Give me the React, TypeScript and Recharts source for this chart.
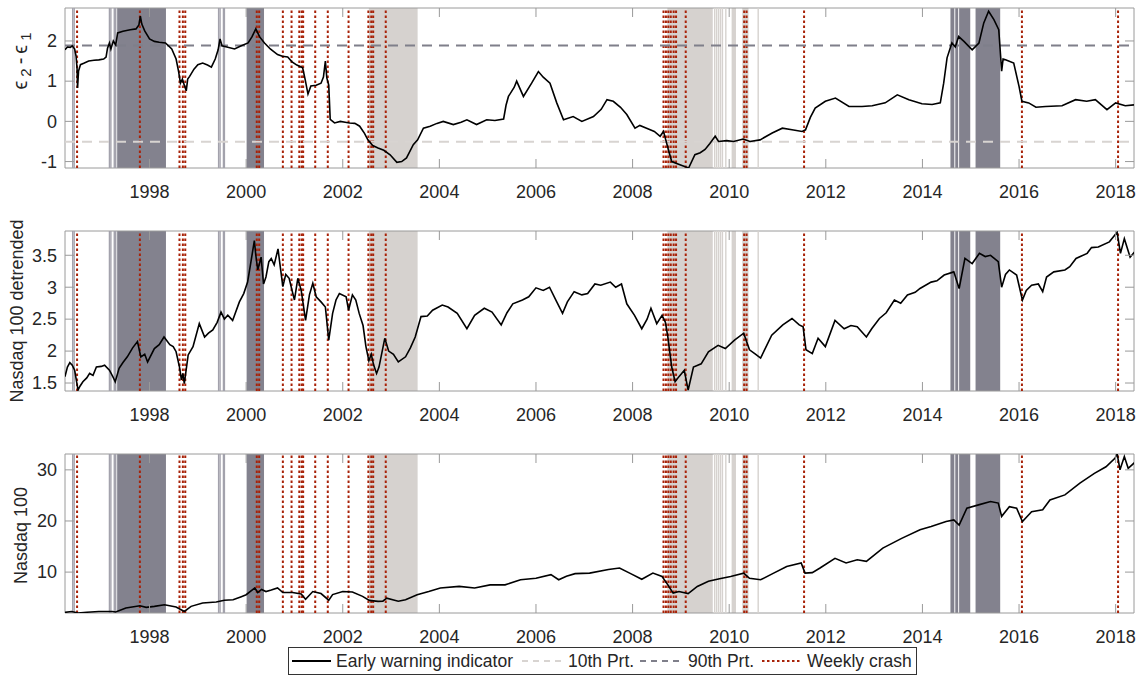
import React from 'react';
import { LineChart, Line, XAxis, YAxis, ReferenceArea, ReferenceLine } from 'recharts';

const X_MIN = 1996.25;
const X_MAX = 2018.38;
const yearTicks = [1998, 2000, 2002, 2004, 2006, 2008, 2010, 2012, 2014, 2016, 2018];

// early warning indicator (eps2 - eps1)
const indicatorDates = [
  1996.25, 1996.3, 1996.36, 1996.4, 1996.45, 1996.48, 1996.5, 1996.51, 1996.53, 1996.57, 1996.65, 1996.74,
  1996.85, 1996.95, 1997.05, 1997.1, 1997.13, 1997.17, 1997.2, 1997.25, 1997.3, 1997.34, 1997.45, 1997.6,
  1997.72, 1997.78, 1997.81, 1997.84, 1997.9, 1998.0, 1998.1, 1998.2, 1998.33, 1998.46, 1998.55, 1998.6,
  1998.64, 1998.68, 1998.72, 1998.76, 1998.79, 1998.83, 1998.92, 1999.0, 1999.1, 1999.2, 1999.28, 1999.36,
  1999.42, 1999.46, 1999.5, 1999.6, 1999.76, 1999.9, 2000.04, 2000.12, 2000.2, 2000.28, 2000.38, 2000.5,
  2000.65, 2000.75, 2000.86, 2000.95, 2001.05, 2001.17, 2001.22, 2001.28, 2001.34, 2001.45, 2001.55, 2001.6,
  2001.64, 2001.67, 2001.71, 2001.74, 2001.83, 2001.95, 2002.05, 2002.14, 2002.25, 2002.35, 2002.45, 2002.52,
  2002.62, 2002.73, 2002.85, 2002.98, 2003.12, 2003.22, 2003.32, 2003.46, 2003.55, 2003.67, 2003.81, 2003.95,
  2004.08, 2004.29, 2004.45, 2004.57, 2004.77, 2004.98, 2005.15, 2005.33, 2005.38, 2005.43, 2005.55, 2005.6,
  2005.74, 2005.91, 2006.05, 2006.15, 2006.29, 2006.43, 2006.57, 2006.77, 2006.95, 2007.19, 2007.35, 2007.47,
  2007.6, 2007.75, 2007.88, 2008.05, 2008.15, 2008.29, 2008.45, 2008.57, 2008.64, 2008.74, 2008.81, 2008.98,
  2009.16, 2009.29, 2009.4, 2009.5, 2009.6, 2009.71, 2009.78, 2009.95, 2010.09, 2010.29, 2010.43, 2010.64,
  2010.89, 2011.1, 2011.3, 2011.51, 2011.58, 2011.68, 2011.78, 2011.99, 2012.2, 2012.48, 2012.75, 2012.96,
  2013.23, 2013.48, 2013.72, 2013.99, 2014.2, 2014.37, 2014.44, 2014.51, 2014.61, 2014.68, 2014.75, 2014.86,
  2015.03, 2015.17, 2015.27, 2015.37, 2015.48, 2015.58, 2015.62, 2015.64, 2015.67, 2015.72, 2015.89, 2016.0,
  2016.06, 2016.2, 2016.35, 2016.55, 2016.89, 2017.17, 2017.4, 2017.58, 2017.82, 2018.0, 2018.2, 2018.38,
];
const indicatorValues = [
  1.78, 1.85, 1.84, 1.88, 1.8, 1.62, 1.3, 0.83, 1.25, 1.41, 1.45, 1.5,
  1.52, 1.53, 1.55, 1.6, 1.82, 1.95, 1.8, 2.0, 1.9, 2.2, 2.24, 2.28,
  2.3, 2.4, 2.62, 2.42, 2.25, 2.05, 1.99, 1.97, 1.95, 1.8, 1.55, 1.25,
  0.95, 1.05, 0.9, 0.76, 1.05, 1.12, 1.3, 1.41, 1.45, 1.4, 1.35, 1.55,
  1.78, 2.05, 1.88, 1.85, 1.8, 1.88, 1.95, 2.1, 2.3, 2.1, 1.95, 1.8,
  1.66, 1.62, 1.6, 1.48, 1.4, 1.33, 1.05, 0.68, 0.88, 0.9, 0.95, 1.1,
  1.5, 1.08, 0.9, 0.05, -0.04, 0.0, -0.02, -0.04, -0.05, -0.12, -0.3, -0.46,
  -0.6, -0.66, -0.72, -0.83, -1.02, -1.0, -0.91, -0.58, -0.46, -0.17, -0.12, -0.05,
  0.0, -0.08, -0.02, 0.04, -0.08, 0.04, 0.02, 0.06, 0.4, 0.62, 0.85, 1.0,
  0.62, 0.95, 1.24, 1.1, 0.95, 0.46, 0.04, 0.12, 0.0, 0.12, 0.3, 0.54,
  0.5, 0.35, 0.17, -0.17, -0.1, -0.17, -0.25, -0.37, -0.25, -0.7, -1.0, -1.08,
  -1.16, -0.83, -0.78, -0.7, -0.55, -0.37, -0.5, -0.48, -0.5, -0.44, -0.5, -0.46,
  -0.29, -0.17, -0.21, -0.25, -0.21, 0.1, 0.33, 0.5, 0.58, 0.37, 0.37, 0.39,
  0.46, 0.66, 0.54, 0.44, 0.42, 0.46, 0.95, 1.58, 1.95, 1.85, 2.11, 1.99,
  1.78, 1.95, 2.45, 2.74, 2.53, 2.28, 1.6, 1.25, 1.55, 1.53, 1.45, 0.87,
  0.5, 0.46, 0.35, 0.37, 0.39, 0.54, 0.5, 0.54, 0.29, 0.46, 0.39, 0.41,
];

// Nasdaq 100 detrended
const detrendedDates = [
  1996.25, 1996.3, 1996.35, 1996.4, 1996.45, 1996.52, 1996.56, 1996.62, 1996.7, 1996.76, 1996.83, 1996.9,
  1997.0, 1997.07, 1997.17, 1997.24, 1997.29, 1997.37, 1997.45, 1997.54, 1997.65, 1997.75, 1997.82, 1997.9,
  1997.96, 1998.1, 1998.2, 1998.3, 1998.42, 1998.49, 1998.55, 1998.62, 1998.66, 1998.69, 1998.72, 1998.8,
  1998.9, 1999.03, 1999.14, 1999.22, 1999.31, 1999.4, 1999.48, 1999.55, 1999.62, 1999.72, 1999.86, 1999.95,
  2000.03, 2000.1, 2000.17, 2000.2, 2000.24, 2000.31, 2000.36, 2000.41, 2000.47, 2000.52, 2000.58, 2000.66,
  2000.71, 2000.76, 2000.82, 2000.89, 2000.95, 2001.0, 2001.07, 2001.14, 2001.23, 2001.31, 2001.38, 2001.45,
  2001.55, 2001.64, 2001.71, 2001.79, 2001.86, 2001.93, 2002.07, 2002.12, 2002.2, 2002.27, 2002.34, 2002.42,
  2002.48, 2002.54, 2002.59, 2002.64, 2002.7, 2002.75, 2002.87, 2002.95, 2003.05, 2003.15, 2003.3, 2003.4,
  2003.5, 2003.62, 2003.75, 2003.86, 2004.06, 2004.18, 2004.37, 2004.57, 2004.73, 2004.93, 2005.09, 2005.28,
  2005.4, 2005.52, 2005.72, 2005.85, 2006.0, 2006.15, 2006.28, 2006.43, 2006.55, 2006.65, 2006.79, 2006.95,
  2007.07, 2007.22, 2007.34, 2007.54, 2007.65, 2007.77, 2007.88, 2008.04, 2008.19, 2008.3, 2008.38, 2008.5,
  2008.61, 2008.68, 2008.73, 2008.81, 2008.88, 2008.96, 2009.07, 2009.15, 2009.26, 2009.42, 2009.57, 2009.77,
  2009.92, 2010.11, 2010.3, 2010.42, 2010.55, 2010.65, 2010.88, 2011.11, 2011.3, 2011.45, 2011.53, 2011.59,
  2011.72, 2011.84, 2011.99, 2012.19, 2012.38, 2012.52, 2012.65, 2012.84, 2012.95, 2013.11, 2013.25, 2013.42,
  2013.55, 2013.69, 2013.85, 2013.95, 2014.18, 2014.3, 2014.45, 2014.65, 2014.76, 2014.88, 2015.03, 2015.18,
  2015.3, 2015.41, 2015.57, 2015.64, 2015.72, 2015.8, 2015.95, 2016.07, 2016.15, 2016.26, 2016.4, 2016.49,
  2016.57, 2016.72, 2016.95, 2017.05, 2017.18, 2017.41, 2017.5, 2017.64, 2017.87, 2018.03, 2018.1, 2018.18,
  2018.3, 2018.39,
];
const detrendedValues = [
  1.6, 1.75, 1.82, 1.78, 1.7, 1.39, 1.45, 1.52, 1.58, 1.65, 1.62, 1.75,
  1.76, 1.78, 1.7, 1.6, 1.52, 1.73, 1.82, 1.91, 2.05, 2.15, 1.91, 1.95,
  1.83, 2.04, 2.1, 2.22, 2.1, 2.07, 1.99, 1.75, 1.55, 1.65, 1.49, 1.94,
  2.07, 2.43, 2.22, 2.28, 2.33, 2.45, 2.61, 2.5, 2.56, 2.48, 2.77, 2.9,
  3.08, 3.4, 3.73, 3.5, 3.27, 3.47, 3.05, 3.16, 3.4, 3.45, 3.35, 3.6,
  3.3, 3.01, 3.2, 3.14, 2.95, 2.8, 3.14, 2.95, 2.48, 2.88, 3.06, 2.85,
  2.77, 2.69, 2.17, 2.59, 2.8, 2.9, 2.85, 2.64, 2.88, 2.8, 2.59, 2.4,
  2.07, 1.85, 1.95, 1.78, 1.65, 1.75, 2.2, 2.0, 1.95, 1.83, 1.91, 2.05,
  2.22, 2.54, 2.55, 2.64, 2.72, 2.69, 2.59, 2.35, 2.56, 2.67, 2.61, 2.41,
  2.6, 2.74, 2.8, 2.85, 2.99, 2.95, 3.0, 2.77, 2.59, 2.77, 2.93, 2.88,
  2.9, 3.05, 3.03, 3.08, 3.0, 3.05, 2.74, 2.56, 2.35, 2.5, 2.67, 2.43,
  2.56, 2.45, 2.22, 1.75, 1.52, 1.6, 1.7, 1.39, 1.75, 1.8, 1.99, 2.09,
  2.04, 2.17, 2.28, 2.02, 1.95, 1.89, 2.25, 2.41, 2.51, 2.41, 2.38, 2.02,
  1.96, 2.2, 2.07, 2.48, 2.35, 2.4, 2.38, 2.22, 2.35, 2.51, 2.6, 2.8,
  2.75, 2.88, 2.92, 2.98, 3.08, 3.1, 3.19, 3.24, 2.98, 3.45, 3.37, 3.53,
  3.48, 3.5, 3.4, 3.0, 3.2, 3.27, 3.19, 2.8, 2.95, 3.03, 3.05, 2.93,
  3.16, 3.24, 3.27, 3.32, 3.45, 3.53, 3.62, 3.63, 3.71, 3.86, 3.53, 3.76,
  3.47, 3.55,
];

// Nasdaq 100
const nasdaqDates = [
  1996.25, 1996.39, 1996.52, 1996.7, 1996.95, 1997.23, 1997.3, 1997.51, 1997.8, 1997.93, 1998.1, 1998.31,
  1998.55, 1998.72, 1998.86, 1999.1, 1999.38, 1999.55, 1999.73, 1999.9, 2000.0, 2000.18, 2000.24, 2000.32,
  2000.41, 2000.52, 2000.65, 2000.76, 2000.96, 2001.14, 2001.23, 2001.38, 2001.55, 2001.71, 2001.79, 2002.0,
  2002.2, 2002.41, 2002.55, 2002.73, 2002.83, 2002.91, 2003.15, 2003.3, 2003.54, 2003.78, 2004.02, 2004.41,
  2004.73, 2005.05, 2005.36, 2005.68, 2006.0, 2006.31, 2006.47, 2006.63, 2006.81, 2007.11, 2007.5, 2007.73,
  2007.96, 2008.19, 2008.42, 2008.61, 2008.73, 2008.84, 2008.96, 2009.15, 2009.34, 2009.57, 2009.8, 2010.03,
  2010.3, 2010.42, 2010.65, 2010.92, 2011.19, 2011.49, 2011.57, 2011.72, 2011.88, 2012.19, 2012.42, 2012.65,
  2012.84, 2013.18, 2013.57, 2013.95, 2014.18, 2014.49, 2014.65, 2014.76, 2014.92, 2015.18, 2015.41, 2015.57,
  2015.64, 2015.8, 2015.95, 2016.07, 2016.26, 2016.49, 2016.64, 2016.95, 2017.26, 2017.56, 2017.8, 2017.99,
  2018.03, 2018.09, 2018.18, 2018.26, 2018.39,
];
const nasdaqValues = [
  2.12, 2.3, 2.0, 2.15, 2.3, 2.3, 2.2, 2.97, 3.42, 3.1, 3.3, 3.62,
  3.16, 2.3, 3.3, 3.95, 4.14, 4.5, 4.6, 5.2, 5.57, 6.9, 6.0, 6.6,
  6.2, 6.5, 6.9, 6.0, 6.0, 5.7, 4.7, 6.2, 5.8, 4.5, 5.6, 6.2,
  6.1, 5.25, 4.47, 4.27, 4.3, 4.9, 4.3, 4.6, 5.57, 6.2, 6.9, 7.2,
  6.9, 7.5, 7.5, 8.5, 8.8, 9.5, 8.5, 9.2, 9.7, 9.8, 10.5, 10.8,
  9.7, 8.6, 9.8, 9.15, 7.5, 5.9, 6.2, 5.8, 7.2, 8.2, 8.7, 9.15,
  9.8, 8.8, 8.5, 9.8, 11.1, 11.8, 9.8, 9.9, 10.8, 12.7, 11.8, 12.4,
  12.1, 14.7, 16.6, 18.3, 18.9, 19.9, 20.2, 19.2, 22.5, 23.2, 23.8, 23.5,
  20.9, 22.8, 22.5, 19.9, 21.8, 22.2, 24.1, 25.1, 27.4, 29.3, 30.6, 32.3,
  33.2, 30.0, 32.6, 30.3, 31.4,
];

const prt10 = -0.51;
const prt90 = 1.89;

// regime periods and crash weeks (decimal years)
const darkPeriods = [
  [1997.33, 1998.34], [2000.01, 2000.37], [2014.58, 2014.66], [2014.68, 2014.74],
  [2014.76, 2014.99], [2015.1, 2015.61],
];
const lightPeriods = [[2002.54, 2003.55], [2008.72, 2009.66], [2010.05, 2010.14], [2010.27, 2010.4]];
const darkDays = [1996.41, 1996.44, 1997.17, 1997.2, 1997.27, 1997.3, 1999.43, 1999.46, 1999.53, 1999.55];
const lightDays = [2009.7, 2009.74, 2009.78, 2009.82, 2009.86, 2009.93, 2010.6];
const crashDates = [
  1996.5, 1997.8, 1998.62, 1998.69, 1998.74, 2000.22, 2000.27, 2000.76, 2000.94, 2001.1, 2001.15, 2001.18,
  2001.43, 2001.69, 2002.12, 2002.53, 2002.59, 2002.63, 2002.89, 2008.64, 2008.69, 2008.74, 2008.79,
  2008.85, 2008.9, 2009.1, 2010.31, 2010.36, 2011.55, 2016.06, 2018.05,
];

const toRows = (dates: number[], values: number[]) => dates.map((t, i) => ({ t, v: values[i] }));

const FONT = '"Liberation Sans", Arial, Helvetica, sans-serif';
const TXT = '#262626';
const AXIS = '#9a9a9a';
const DARK = '#83828e';
const LIGHT = '#d6d2cf';
const RED = '#a82208';
const X_AXIS_H = 42;
const TITLE_PAD = 60;

function XTick(props: any) {
  const { x, y, payload, plotH } = props;
  return (
    <g>
      <line x1={x} x2={x} y1={y} y2={y - 9} stroke={AXIS} />
      <line x1={x} x2={x} y1={y - plotH} y2={y - plotH + 9} stroke={AXIS} />
      <text x={x} y={y + 30} textAnchor="middle" fontSize={18} fill={TXT} fontFamily={FONT}>
        {payload.value}
      </text>
    </g>
  );
}

function YTick(props: any) {
  const { x, y, payload } = props;
  return (
    <g>
      <line x1={x} x2={x + 9} y1={y} y2={y} stroke={AXIS} />
      <line x1={x + 1069} x2={x + 1060} y1={y} y2={y} stroke={AXIS} />
      <text x={x - 8} y={y} dy="0.35em" textAnchor="end" fontSize={18} fill={TXT} fontFamily={FONT}>
        {payload.value}
      </text>
    </g>
  );
}

function EpsTitle({ cx, cy }: { cx: number; cy: number }) {
  return (
    <text transform={`translate(${cx},${cy}) rotate(-90)`} textAnchor="middle" fontSize={20} fill={TXT} fontFamily={FONT} letterSpacing={4}>
      <tspan>ϵ</tspan>
      <tspan fontSize={15} dy={4}>2</tspan>
      <tspan dy={-4}>-ϵ</tspan>
      <tspan fontSize={15} dy={4}>1</tspan>
    </text>
  );
}

function PlainTitle({ text, cx, cy }: { text: string; cx: number; cy: number }) {
  return (
    <text transform={`translate(${cx},${cy}) rotate(-90)`} textAnchor="middle" fontSize={18} fill={TXT} fontFamily={FONT}>
      {text}
    </text>
  );
}

type PanelProps = {
  rows: { t: number; v: number }[];
  domain: [number, number];
  ticks: number[];
  top: number;
  marginTop: number;
  plotH: number;
  title: (cy: number) => React.ReactElement;
  percentiles?: boolean;
};

function Panel({ rows, domain, ticks, top, marginTop, plotH, title, percentiles }: PanelProps) {
  const height = marginTop + plotH + X_AXIS_H;
  const centerY = TITLE_PAD + marginTop + plotH / 2;
  return (
    <div style={{ position: 'absolute', left: 0, top }}>
      <LineChart width={1142} height={height} data={rows} margin={{ top: marginTop, right: 8, bottom: 0, left: 0 }}>
        <XAxis
          dataKey="t"
          type="number"
          domain={[X_MIN, X_MAX]}
          ticks={yearTicks}
          interval={0}
          allowDataOverflow
          height={X_AXIS_H}
          tickSize={0}
          tickMargin={0}
          axisLine={false}
          tick={(p: any) => <XTick {...p} plotH={plotH} />}
        />
        <YAxis
          type="number"
          domain={domain}
          ticks={ticks}
          interval={0}
          allowDataOverflow
          width={65}
          tickSize={0}
          tickMargin={0}
          axisLine={false}
          tick={(p: any) => <YTick {...p} />}
        />
        {darkPeriods.map(([a, b], i) => (
          <ReferenceArea key={`d${i}`} x1={a} x2={b} fill={DARK} fillOpacity={1} stroke="none" ifOverflow="hidden" />
        ))}
        {lightPeriods.map(([a, b], i) => (
          <ReferenceArea key={`l${i}`} x1={a} x2={b} fill={LIGHT} fillOpacity={1} stroke="none" ifOverflow="hidden" />
        ))}
        {darkDays.map((d, i) => (
          <ReferenceLine key={`dd${i}`} x={d} stroke="#a3a2ac" strokeWidth={1.4} />
        ))}
        {lightDays.map((d, i) => (
          <ReferenceLine key={`ld${i}`} x={d} stroke={LIGHT} strokeWidth={1.4} />
        ))}
        {crashDates.map((d, i) => (
          <ReferenceLine key={`c${i}`} x={d} stroke={RED} strokeWidth={2} strokeDasharray="2.5 2.5" />
        ))}
        {percentiles && <ReferenceLine y={prt10} stroke="#d8d4d1" strokeWidth={2} strokeDasharray="10 7" />}
        {percentiles && <ReferenceLine y={prt90} stroke="#7f7f8a" strokeWidth={2} strokeDasharray="10 7" />}
        <Line dataKey="v" type="linear" stroke="#000" strokeWidth={1.6} dot={false} activeDot={false} isAnimationActive={false} />
        <ReferenceArea x1={X_MIN} x2={X_MAX} y1={domain[0]} y2={domain[1]} fill="none" stroke={AXIS} strokeWidth={1} />
      </LineChart>
      <svg
        width={60}
        height={height + 2 * TITLE_PAD}
        style={{ position: 'absolute', left: 0, top: -TITLE_PAD, pointerEvents: 'none' }}
      >
        {title(centerY)}
      </svg>
    </div>
  );
}

function LegendBox() {
  const y = 14;
  const textProps = { fontSize: 17.5, fill: TXT, fontFamily: FONT, y: 20 };
  return (
    <svg width={630} height={29} style={{ position: 'absolute', left: 288, top: 647 }}>
      <rect x={0.5} y={0.5} width={628} height={27} fill="#fff" stroke="#333" />
      <line x1={4} x2={43} y1={y} y2={y} stroke="#000" strokeWidth={2} />
      <text x={48} {...textProps}>Early warning indicator</text>
      <line x1={234} x2={274} y1={y} y2={y} stroke="#d8d4d1" strokeWidth={2} strokeDasharray="6 5" />
      <text x={280} {...textProps}>10th Prt.</text>
      <line x1={352} x2={394} y1={y} y2={y} stroke="#7f7f8a" strokeWidth={2} strokeDasharray="6 5" />
      <text x={400} {...textProps}>90th Prt.</text>
      <line x1={474} x2={513} y1={y} y2={y} stroke={RED} strokeWidth={2} strokeDasharray="2.5 2.5" />
      <text x={519} {...textProps}>Weekly crash</text>
    </svg>
  );
}

export default function App() {
  return (
    <div style={{ position: 'absolute', left: 0, top: 0, width: 1142, height: 680, background: '#fff', fontFamily: FONT }}>
      <Panel
        rows={toRows(indicatorDates, indicatorValues)}
        domain={[-1.16, 2.82]}
        ticks={[-1, 0, 1, 2]}
        top={0}
        marginTop={8}
        plotH={160}
        title={(cy) => <EpsTitle cx={27} cy={cy - 29} />}
        percentiles
      />
      <Panel
        rows={toRows(detrendedDates, detrendedValues)}
        domain={[1.375, 3.88]}
        ticks={[1.5, 2, 2.5, 3, 3.5]}
        top={222}
        marginTop={9}
        plotH={160}
        title={(cy) => <PlainTitle text="Nasdaq 100 detrended" cx={23} cy={cy} />}
      />
      <Panel
        rows={toRows(nasdaqDates, nasdaqValues)}
        domain={[2.0, 33.1]}
        ticks={[10, 20, 30]}
        top={446}
        marginTop={8}
        plotH={159}
        title={(cy) => <PlainTitle text="Nasdaq 100" cx={27} cy={cy + 2} />}
      />
      <LegendBox />
    </div>
  );
}
